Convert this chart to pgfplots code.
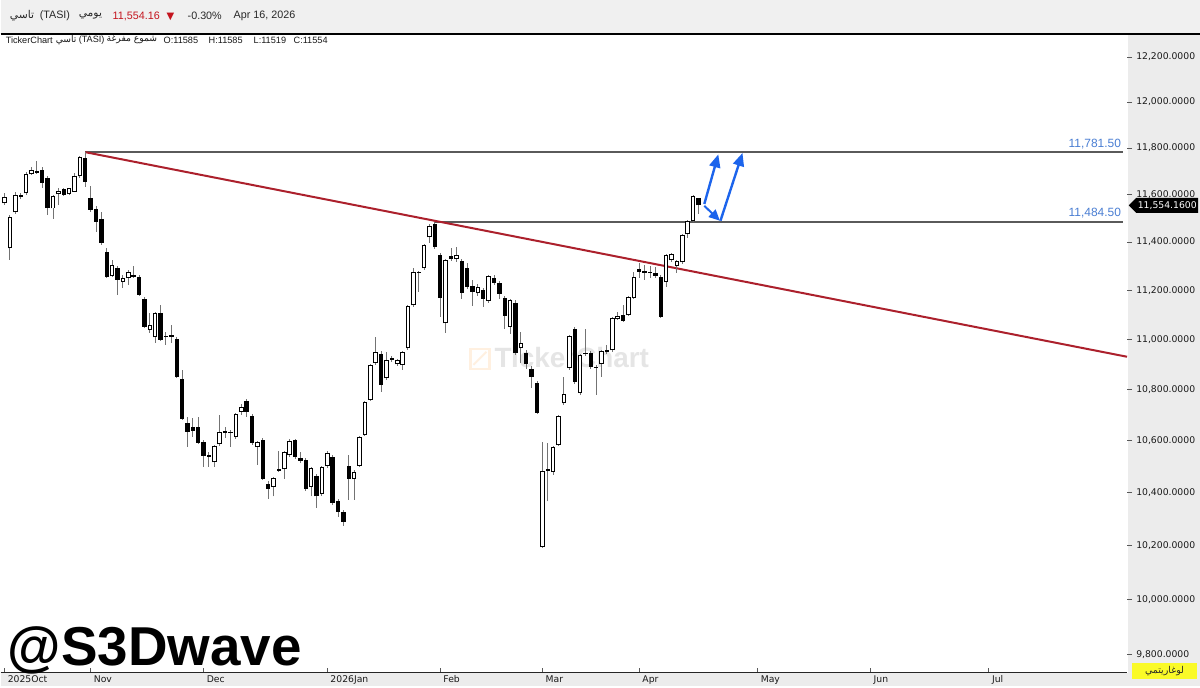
\documentclass[border=0pt]{standalone}
\usepackage{fontspec}
\setmainfont{Liberation Sans}
\newfontfamily\dejavu{DejaVu Sans}
\newfontfamily\arabicfont[Script=Arabic]{DejaVu Sans}
\TeXXeTstate=1
\usepackage{pgfplots}
\pgfplotsset{compat=1.18}
\usepackage{pgfplotstable}
\usetikzlibrary{arrows.meta,shapes.symbols}

\definecolor{panel}{RGB}{236,236,236}
\definecolor{hdr}{RGB}{240,240,240}
\definecolor{trend}{RGB}{172,32,44}
\definecolor{lvl}{RGB}{90,90,90}
\definecolor{lvltxt}{RGB}{74,126,211}
\definecolor{arrowblue}{RGB}{28,100,236}
\definecolor{pricered}{RGB}{196,20,30}
\definecolor{wickc}{RGB}{115,115,115}
\definecolor{ylw}{RGB}{250,250,40}
\definecolor{txt}{RGB}{40,40,40}

% up (hollow) candles: index open high low close
\pgfplotstableread{
i O H L C
0 11565 11607 11556 11586
1 11375 11514 11325 11501
2 11526 11611 11518 11594
4 11607 11697 11598 11684
5 11688 11718 11684 11701
9 11543 11598 11497 11590
10 11603 11628 11556 11615
12 11603 11628 11598 11624
13 11615 11692 11611 11675
14 11680 11765 11671 11757
20 11259 11325 11255 11301
22 11235 11263 11210 11247
23 11251 11284 11222 11272
27 11039 11108 11027 11055
28 11010 11112 10986 11103
39 10517 10583 10498 10576
40 10587 10700 10579 10630
43 10614 10708 10606 10700
44 10712 10743 10700 10728
47 10576 10599 10506 10591
50 10422 10460 10384 10452
52 10490 10560 10452 10552
53 10544 10606 10537 10595
57 10422 10498 10384 10490
59 10395 10502 10387 10494
60 10502 10560 10494 10548
65 10452 10487 10372 10475
66 10502 10618 10498 10610
67 10622 10755 10618 10747
68 10759 10902 10755 10894
69 10906 11010 10898 10946
71 10846 10950 10838 10914
73 10902 10922 10894 10914
74 10898 10954 10878 10946
75 10966 11140 10958 11132
76 11140 11292 11132 11272
78 11292 11392 11284 11384
79 11421 11476 11396 11463
82 11067 11330 11027 11321
84 11330 11380 11317 11342
88 11189 11226 11177 11210
90 11157 11263 11149 11255
94 11051 11165 11023 11157
96 10966 11031 10906 10982
100 10195 10595 10191 10479
102 10479 10579 10468 10572
103 10583 10700 10579 10692
104 10747 10850 10740 10779
105 10886 11019 10878 11010
107 10787 10942 10779 10934
111 10902 10958 10850 10950
112 10950 10978 10942 10954
113 10958 11091 10950 11083
114 11083 11112 11079 11091
116 11100 11177 11095 11169
117 11169 11276 11165 11251
123 11235 11351 11214 11342
124 11326 11355 11317 11346
125 11301 11326 11272 11317
126 11317 11434 11309 11426
127 11434 11493 11417 11484
128 11489 11600 11484 11590
}\up

% down (filled) candles
\pgfplotstableread{
i O H L C
3 11598 11607 11581 11590
6 11701 11744 11688 11692
7 11705 11718 11628 11650
8 11671 11680 11514 11543
11 11624 11628 11594 11598
15 11757 11781.5 11633 11654
16 11586 11637 11526 11535
17 11539 11552 11442 11484
18 11497 11526 11388 11396
19 11359 11375 11251 11255
21 11292 11301 11181 11243
24 11263 11301 11251 11255
25 11255 11263 11177 11181
26 11165 11173 11047 11051
29 11108 11140 10994 10998
30 11014 11031 10978 11010
31 11019 11059 10986 11010
32 11002 11010 10846 10850
33 10842 10878 10681 10684
34 10669 10692 10576 10634
35 10653 10688 10614 10638
36 10653 10692 10587 10591
37 10595 10603 10498 10541
38 10544 10556 10498 10537
41 10638 10653 10610 10630
42 10634 10642 10576 10630
45 10755 10763 10692 10712
46 10696 10704 10583 10591
48 10603 10610 10448 10452
49 10433 10445 10376 10414
51 10490 10560 10479 10483
54 10603 10606 10529 10537
55 10533 10556 10514 10521
56 10525 10533 10406 10414
58 10464 10471 10342 10384
61 10537 10544 10353 10361
62 10368 10376 10308 10327
63 10327 10334 10274 10289
64 10502 10544 10372 10452
70 10942 10954 10791 10818
72 10926 10934 10910 10918
77 11276 11280 11193 11270
80 11476 11484.5 11371 11380
81 11346 11355 11091 11169
83 11342 11375 11321 11330
85 11321 11330 11165 11189
86 11292 11313 11206 11214
87 11218 11243 11136 11194
89 11202 11210 11132 11165
91 11251 11263 11222 11230
92 11230 11239 11165 11185
93 11169 11177 11043 11095
95 11149 11161 10938 10946
97 10946 10958 10882 10902
98 10882 10894 10807 10850
99 10826 10834 10704 10708
101 10490 10591 10365 10483
106 11043 11051 10822 10830
108 10946 11043 10934 10942
109 10946 10954 10882 10890
110 10890 10898 10779 10886
115 11100 11140 11071 11075
118 11288 11313 11251 11276
119 11280 11305 11243 11272
120 11276 11301 11251 11270
121 11272 11297 11251 11259
122 11255 11263 11087 11091
129 11585 11585 11519 11554.16
}\down

\pgfplotstablegetrowsof{\up}\pgfmathtruncatemacro\nup{\pgfplotsretval-1}
\pgfplotstablegetrowsof{\down}\pgfmathtruncatemacro\ndn{\pgfplotsretval-1}

\newcommand\getrow[2]{% row, table
  \pgfplotstablegetelem{#1}{i}\of#2\let\ci\pgfplotsretval
  \pgfplotstablegetelem{#1}{O}\of#2\let\co\pgfplotsretval
  \pgfplotstablegetelem{#1}{H}\of#2\let\ch\pgfplotsretval
  \pgfplotstablegetelem{#1}{L}\of#2\let\cl\pgfplotsretval
  \pgfplotstablegetelem{#1}{C}\of#2\let\cc\pgfplotsretval}

\begin{document}
\begin{tikzpicture}
\begin{scope}[x=1bp,y=1bp]
\path[use as bounding box] (0,-13) rectangle (1200,673);
\fill[white] (0,-13) rectangle (1200,673);
\fill[hdr] (0,640) rectangle (1200,673);
\fill[panel] (1127.5,-13) rectangle (1200,639);
\fill[panel] (0,-13) rectangle (1127.5,0);
\draw[black, line width=1.3bp] (0,639) -- (1200,639);
% watermark
\draw[orange!12, line width=2.5bp] (470,304) rectangle (489,324);
\draw[orange!12, line width=2bp] (473,308) -- (486,321);
\node[anchor=west, inner sep=0, text=black!10, font=\bfseries\fontsize{28}{28}\selectfont] at (494,315) {TickerChart};
\end{scope}

\begin{axis}[
  at={(0,0)}, anchor=south west,
  scale only axis, width=1127bp, height=638bp,
  xmin=-0.743, xmax=208.7,
  % logarithmic price scale
  y coord trafo/.code={\pgfmathparse{ln(#1/11000)}},
  y coord inv trafo/.code={\pgfmathparse{11000*exp(#1)}},
  ymin=9735, ymax=12299,
  clip=false,
  axis x line*=bottom, axis y line*=right,
  x axis line style={-, draw=black!85, line width=1.2bp},
  y axis line style={draw=none},
  xtick={0,16,37,60,81,100,118,140,161,183},
  xticklabels={2025Oct,Nov,Dec,2026Jan,Feb,Mar,Apr,May,Jun,Jul},
  ytick={9800,10000,10200,10400,10600,10800,11000,11200,11400,11600,11800,12000,12200},
  yticklabels={{9,800.0000},{10,000.0000},{10,200.0000},{10,400.0000},{10,600.0000},{10,800.0000},{11,000.0000},{11,200.0000},{11,400.0000},{11,600.0000},{11,800.0000},{12,000.0000},{12,200.0000}},
  xtick align=inside, ytick align=outside,
  major tick length=5bp,
  tick style={black!65, line width=0.7bp},
  xticklabel style={anchor=north west, inner sep=3bp, font=\dejavu\fontsize{9.3}{10}\selectfont, text=black!90},
  yticklabel style={anchor=west, inner sep=2bp, xshift=2bp, font=\dejavu\fontsize{9.3}{10}\selectfont, text=black!90},
]
% level lines and trend line
\addplot[forget plot, lvl, line width=1.6bp] coordinates {(15,11781.5) (208,11781.5)};
\addplot[forget plot, lvl, line width=1.6bp] coordinates {(80,11484.5) (208,11484.5)};
\addplot[forget plot, trend, line width=2bp] coordinates {(15,11781.5) (208.7,10930)};
% down candles
\pgfplotsforeachungrouped \r in {0,...,\ndn}{%
  \getrow{\r}{\down}%
  \edef\cmd{%
    \noexpand\addplot[forget plot, wickc, line width=1bp] coordinates {(\ci,\cl) (\ci,\ch)};%
    \noexpand\addplot[forget plot, black, line width=4.4bp] coordinates {(\ci,\cc) (\ci,\co)};%
  }\cmd
}
% up candles
\pgfplotsforeachungrouped \r in {0,...,\nup}{%
  \getrow{\r}{\up}%
  \pgfmathsetmacro\blo{\co/1.00018}%
  \pgfmathsetmacro\bhi{\cc*1.00018}%
  \pgfmathsetmacro\wlo{\co*1.00018}%
  \pgfmathsetmacro\whi{\cc/1.00018}%
  \edef\cmd{%
    \noexpand\addplot[forget plot, wickc, line width=1bp] coordinates {(\ci,\cl) (\ci,\ch)};%
    \noexpand\addplot[forget plot, black, line width=4.6bp] coordinates {(\ci,\blo) (\ci,\bhi)};%
  }\cmd
  \ifdim\wlo pt<\whi pt
    \edef\cmd{\noexpand\addplot[forget plot, white, line width=2.6bp] coordinates {(\ci,\wlo) (\ci,\whi)};}\cmd
  \fi
}
% blue arrows
\addplot[forget plot, arrowblue, line width=2.4bp, -{Triangle[length=13bp,width=11bp]}] coordinates {(130.1,11560) (132.7,11772)};
\addplot[forget plot, arrowblue, line width=2bp, -{Triangle[length=11bp,width=10bp]}] coordinates {(130.1,11552) (133.0,11489)};
\addplot[forget plot, arrowblue, line width=2.4bp, -{Triangle[length=13bp,width=11bp]}] coordinates {(133.1,11489) (137.2,11778)};
\coordinate (l1) at (axis cs:207.6,11781.5);
\coordinate (l2) at (axis cs:207.6,11484.5);
\coordinate (tag) at (axis cs:208.7,11554.16);
\end{axis}

% level labels
\node[anchor=base east, inner sep=0, text=lvltxt, font=\fontsize{12}{12}\selectfont] at ([yshift=5bp]l1) {11,781.50};
\node[anchor=base east, inner sep=0, text=lvltxt, font=\fontsize{12}{12}\selectfont] at ([yshift=5bp]l2) {11,484.50};
% price tag
\node[signal, signal to=west, fill=black, text=white, anchor=west, inner xsep=1.5bp, inner ysep=3.5bp,
  font=\dejavu\fontsize{9.3}{10}\selectfont] at ([xshift=1.5bp]tag) {11,554.1600};

\begin{scope}[x=1bp,y=1bp]
% header line 1
\begin{scope}[every node/.style={anchor=west, inner sep=0, text=txt, font=\fontsize{10.8}{12}\selectfont}]
\node at (9,657) {\arabicfont\beginR تاسي\endR};
\node at (39,657) {(TASI)};
\node at (78,657) {\arabicfont\beginR يومي\endR};
\node[text=pricered] at (112,657) {11,554.16};
\node[text=pricered, font=\dejavu\fontsize{10}{12}\selectfont] at (166,656) {▼};
\node at (187,657) {-0.30\%};
\node at (233,657) {Apr 16, 2026};
\end{scope}
% header line 2
\begin{scope}[every node/.style={anchor=west, inner sep=0, text=black!90, font=\fontsize{9.2}{10}\selectfont}]
\node at (5,633) {TickerChart};
\node at (55,633) {\arabicfont\beginR تاسي\endR};
\node at (78,633) {(TASI)};
\node at (106,633) {\arabicfont\beginR شموع مفرغة\endR};
\node at (163,633) {O:11585};
\node at (208,633) {H:11585};
\node at (253,633) {L:11519};
\node at (293,633) {C:11554};
\end{scope}
% log label box
\fill[ylw] (1132,-6) rectangle (1197,10);
\node[font=\arabicfont\fontsize{9.5}{10}\selectfont, text=black!85, inner sep=0] at (1164.5,2) {\beginR لوغاريتمي\endR};
% signature
\node[anchor=base west, inner sep=0, font=\bfseries\fontsize{55}{55}\selectfont] at (7,7) {@S3Dwave};
\end{scope}
\end{tikzpicture}
\end{document}
